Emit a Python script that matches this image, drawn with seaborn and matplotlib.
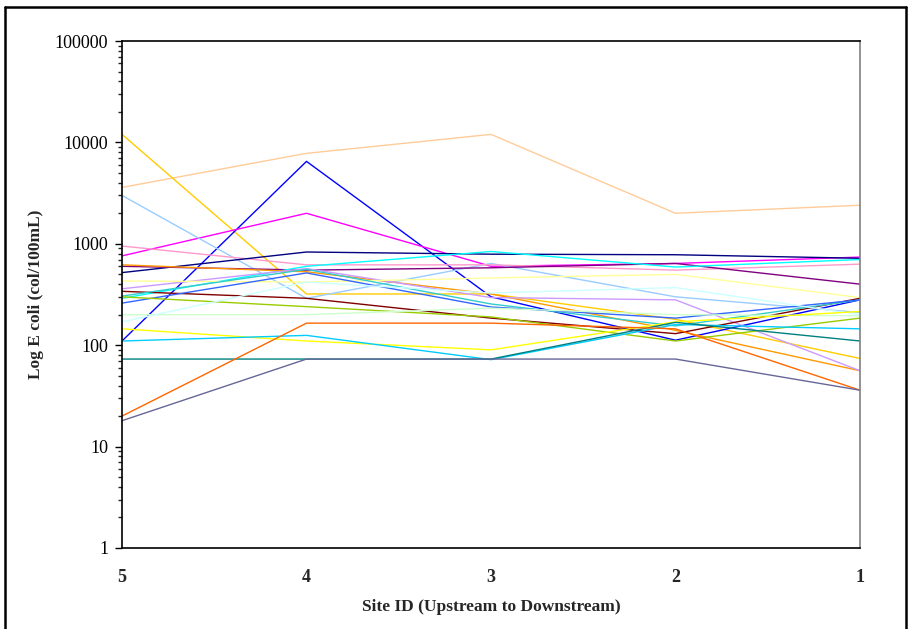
import matplotlib
matplotlib.use("Agg")
import matplotlib.pyplot as plt
import matplotlib.ticker as mticker
from matplotlib.lines import Line2D
import seaborn as sns
import pandas as pd

sites = ["5", "4", "3", "2", "1"]

tan = [3600, 7800, 12000, 2000, 2400]
gold = [12000, 320, 320, 180, 74]
blue = [110, 6500, 300, 112, 280]
magenta = [760, 2000, 600, 640, 740]
pale_blue = [3000, 290, 640, 300, 210]
rose = [950, 620, 620, 550, 630]
navy = [520, 830, 790, 780, 720]
purple = [600, 550, 580, 640, 400]
cyan = [290, 600, 840, 590, 700]
light_orange = [620, 530, 320, 140, 56]
lavender = [360, 570, 295, 280, 56]
light_yellow = [430, 420, 460, 500, 295]
maroon = [340, 290, 185, 130, 290]
aqua = [305, 560, 255, 155, 280]
light_blue = [260, 516, 238, 185, 280]
lime = [300, 240, 190, 110, 185]
light_green = [200, 200, 232, 200, 195]
light_turquoise = [170, 420, 327, 370, 200]
yellow = [145, 110, 90, 170, 215]
sky_blue = [110, 125, 72, 160, 145]
teal = [73, 73, 73, 168, 110]
orange = [20, 165, 165, 145, 36]
blue_grey = [18, 73, 73, 73, 36]

series = {
    "tan": (tan, "#FFCC99"),
    "gold": (gold, "#FFCC00"),
    "blue": (blue, "#0000FF"),
    "magenta": (magenta, "#FF00FF"),
    "pale_blue": (pale_blue, "#99CCFF"),
    "rose": (rose, "#FF99CC"),
    "navy": (navy, "#000080"),
    "purple": (purple, "#800080"),
    "cyan": (cyan, "#00FFFF"),
    "light_orange": (light_orange, "#FF9900"),
    "lavender": (lavender, "#CC99FF"),
    "light_yellow": (light_yellow, "#FFFF99"),
    "maroon": (maroon, "#800000"),
    "aqua": (aqua, "#33CCCC"),
    "light_blue": (light_blue, "#3366FF"),
    "lime": (lime, "#99CC00"),
    "light_green": (light_green, "#CCFFCC"),
    "light_turquoise": (light_turquoise, "#CCFFFF"),
    "yellow": (yellow, "#FFFF00"),
    "sky_blue": (sky_blue, "#00CCFF"),
    "teal": (teal, "#008080"),
    "orange": (orange, "#FF6600"),
    "blue_grey": (blue_grey, "#666699"),
}

rows = []
for name, (vals, _) in series.items():
    for s, v in zip(sites, vals):
        rows.append({"site": s, "value": v, "series": name})
df = pd.DataFrame(rows)
palette = {name: c for name, (_, c) in series.items()}

sns.set_theme(style="white")
plt.rcParams["font.family"] = ["Liberation Serif", "DejaVu Serif"]

fig = plt.figure(figsize=(9.09, 6.29), dpi=100)
ax = fig.add_axes([122 / 909, 1 - 548 / 629, (860 - 122) / 909, (548 - 41) / 629])

sns.lineplot(data=df, x="site", y="value", hue="series", palette=palette,
             linewidth=1.0, legend=False, sort=False, ax=ax, estimator=None)

ax.set_yscale("log")
ax.set_ylim(1, 100000)
ax.set_xlim(0, len(sites) - 1)
ax.yaxis.set_major_locator(mticker.LogLocator(base=10, numticks=10))
ax.yaxis.set_minor_locator(mticker.LogLocator(base=10, subs=range(2, 10), numticks=20))
ax.yaxis.set_major_formatter(mticker.FuncFormatter(lambda v, _: f"{v:g}"))
ax.yaxis.set_minor_formatter(mticker.NullFormatter())

ax.tick_params(axis="y", which="major", direction="out", length=5, width=1,
               left=True, labelsize=13, pad=5, colors="black")
ax.tick_params(axis="y", which="minor", direction="out", length=3, width=1, left=True)
ax.tick_params(axis="x", which="both", length=0, pad=15, labelsize=13)
for lab in ax.get_xticklabels():
    lab.set_fontweight("bold")

for side in ["left", "bottom", "top"]:
    ax.spines[side].set_color("black")
    ax.spines[side].set_linewidth(1.2)
ax.spines["right"].set_color("#808080")
ax.spines["right"].set_linewidth(1.2)

ax.set_xlabel("Site ID (Upstream to Downstream)", fontsize=12.5, fontweight="bold")
ax.set_ylabel("Log E coli (col/100mL)", fontsize=12.5, fontweight="bold")
ax.xaxis.set_label_coords(0.5, (548 - 607) / 507)
ax.xaxis.label.set_va("center")
ax.yaxis.set_label_coords((36 - 122) / 738, 0.5)
ax.yaxis.label.set_va("center")

# outer border
for xs, ys in [([5 / 909, 5 / 909], [0, 1 - 7 / 629]),
               ([5 / 909, 906 / 909], [1 - 7 / 629, 1 - 7 / 629]),
               ([906 / 909, 906 / 909], [1 - 7 / 629, 0])]:
    fig.add_artist(Line2D(xs, ys, transform=fig.transFigure, color="black", linewidth=1.8))

fig.savefig("out.png", dpi=100)
